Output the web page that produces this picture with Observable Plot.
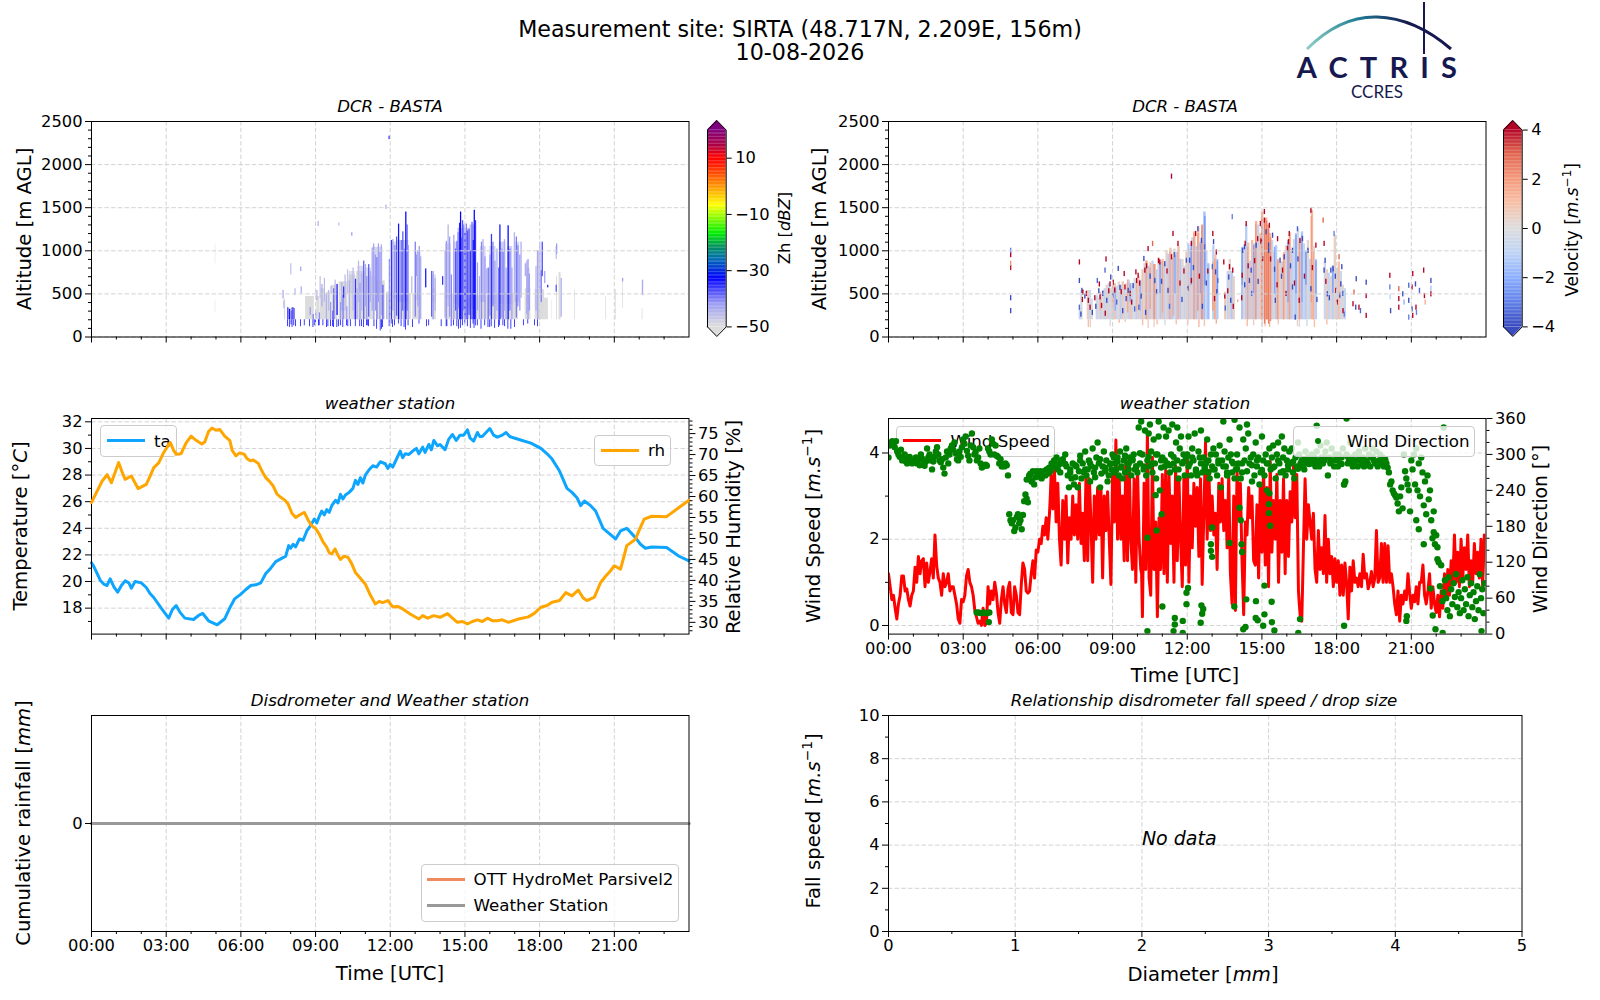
<!DOCTYPE html>
<html><head><meta charset="utf-8">
<script src="https://cdn.jsdelivr.net/npm/d3@7"></script>
<script src="https://cdn.jsdelivr.net/npm/@observablehq/plot@0.6"></script>
<style>
html,body{margin:0;padding:0;background:#fff}
#page{position:relative;width:1600px;height:1000px;overflow:hidden;font-family:"DejaVu Sans",sans-serif;color:#000}
.t{position:absolute;white-space:nowrap;transform:translate(-50%,-50%)}
.v{transform:translate(-50%,-50%) rotate(-90deg)}
.lab{font-size:19.6px}.ttl{font-size:16.6px;font-style:italic}
.leg{position:absolute;box-sizing:border-box;background:rgba(255,255,255,.8);border:1px solid #ccc;border-radius:4px}
.leg .h{position:absolute;height:3px;margin-top:-1.5px}
.leg .m{position:absolute;width:6px;height:6px;border-radius:50%;background:#008000;margin-top:-3px}
.leg span{position:absolute;font-size:16.7px;white-space:nowrap;transform:translateY(-50%)}
sup{font-size:.7em;line-height:0}
</style></head><body><div id="page"></div>
<script>
const hourTicks=[0,3,6,9,12,15,18,21];
const hourMinor=[1,2,4,5,7,8,10,11,13,14,16,17,19,20,22,23];
const titleLines=["Measurement site: SIRTA (48.717N, 2.209E, 156m)","10-08-2026"];

const zhStops=[-50,-42,-33,-26,-22,-17,-10,-7,0,8,10,14,20];
const zhColors=["#dcdcdc","#9a9af5","#0000ff","#0070b0","#009060","#00ee00","#b0ff00","#ffff00","#ff9000","#ff1000","#ff0000","#b00040","#7f007f"];
const velStops=[-4,-3,-2,-1,0,1,2,3,4];
const velColors=["#3b4cc0","#6282ea","#8db0fe","#c0d4f5","#dddcdc","#f7bfa6","#f4987a","#e0654f","#b40426"];

// [startHour,endHour,base,top] : weakest echoes (about -50 dBZ)
const zhGrey=[[4.97,4.99,290,420],[4.97,4.99,850,1080],[7.75,7.8,200,440],[7.92,8.2,200,330],[8.6,8.95,200,470],[9.05,9.18,200,470],[9.2,9.4,200,560],[9.44,9.62,200,520],[9.66,9.9,200,600],[9.95,10.3,200,640],[10.35,10.62,200,720],[10.65,11,200,760],[11,11.4,200,700],[11.45,11.8,200,650],[11.85,12.2,200,520],[12.25,12.85,200,500],[12.9,13.25,200,500],[13.68,13.85,200,560],[14.2,14.7,200,500],[14.7,15.2,200,460],[15.2,16,200,480],[16,17.15,200,500],[17.42,17.65,200,560],[17.82,18.2,200,550],[18.2,18.35,200,450],[18.5,18.52,200,430],[18.68,18.72,200,700],[18.78,18.86,200,750],[19.4,19.43,200,540],[20.65,20.68,200,470],[21.05,21.08,200,550],[21.33,21.36,330,650],[22.12,22.15,200,330],[22.12,22.15,480,650]];
// [startHour,endHour,base,top,dBZ] : patches of faint echoes above the grey layer
const zhFaint=[[10.35,10.6,500,760,-47],[10.7,10.95,520,820,-46],[11.05,11.25,480,800,-46],[11.28,11.7,500,1040,-45],[12.05,12.3,450,1100,-46],[12.3,12.75,400,1120,-44],[13,13.24,420,980,-46],[13.7,13.85,400,720,-46],[14.22,14.45,450,1080,-45],[14.55,14.72,380,1100,-45],[14.72,15.2,320,1260,-42],[15.2,15.45,320,1300,-42],[15.62,15.85,400,1050,-45],[16,16.25,380,1050,-45],[16.38,16.65,380,1100,-44],[16.72,16.92,380,1050,-44],[17,17.2,400,1100,-45],[17.48,17.62,400,800,-46],[17.9,18.08,560,1000,-46]];
// [hour,bottom] : strong pixels under the grey layer, up to 200 m
const zhLow=[[7.88,120],[7.95,110],[8.02,140],[8.06,110],[8.13,130],[8.2,120],[8.4,120],[8.55,130],[8.76,120],[8.9,110],[8.95,130],[9,130],[9.12,130],[9.15,130],[9.3,130],[9.45,110],[9.5,120],[9.6,120],[9.68,120],[9.73,110],[9.86,110],[9.92,120],[10,130],[10.1,110],[10.25,130],[10.3,120],[10.4,120],[10.6,120],[10.78,120],[10.85,120],[10.93,110],[11.05,130],[11.1,130],[11.13,120],[11.35,120],[11.46,90],[11.6,70],[11.65,90],[11.7,110],[11.96,120],[12.04,150],[12.1,110],[12.18,130],[12.33,150],[12.44,120],[12.56,110],[12.62,80],[12.72,130],[12.9,110],[13.16,150],[13.46,120],[13.55,130],[14.05,120],[14.25,120],[14.28,120],[14.45,120],[14.55,130],[14.68,120],[14.75,90],[14.82,100],[14.9,130],[15,150],[15.1,120],[15.22,100],[15.33,150],[15.37,100],[15.42,130],[15.5,130],[15.65,90],[15.8,130],[15.93,110],[16,110],[16.06,120],[16.2,100],[16.35,110],[16.4,130],[16.53,130],[16.6,120],[16.73,90],[16.85,90],[17,110],[17.35,130],[17.53,150],[17.8,130],[17.92,120]];
// [hour,base,top,dBZ]
const zhStreaks=[[7.69,440,540,-44],[7.72,330,420,-46],[7.88,200,340,-36],[7.95,200,320,-34],[8.02,200,300,-40],[8.06,200,340,-36],[8.1,200,340,-41],[8.13,200,330,-38],[8,720,850,-47],[8.17,480,560,-46],[8.4,760,810,-43],[8.42,500,580,-44],[8.78,250,340,-42],[8.9,200,260,-40],[9,200,300,-42],[9.05,420,540,-45],[9.15,200,280,-41],[9.18,450,700,-47],[9.25,350,610,-44],[9.35,400,680,-46],[9.42,200,500,-43],[9.52,300,540,-46],[9.6,200,400,-42],[9.62,500,590,-45],[9.68,200,300,-40],[9.73,200,560,-38],[9.78,420,660,-46],[9.85,250,520,-43],[9.86,250,610,-35],[9.93,1290,1320,-45],[10,200,400,-42],[10.05,300,630,-44],[10.1,200,500,-40],[10.13,450,580,-34],[10.18,300,720,-46],[10.25,200,350,-42],[10.28,500,780,-47],[10.35,200,650,-44],[10.45,1170,1210,-42],[10.5,300,800,-46],[10.56,200,500,-42],[10.6,200,670,-36],[10.66,200,560,-44],[10.72,400,880,-46],[10.78,200,620,-42],[10.85,300,730,-45],[10.93,200,880,-38],[11,350,840,-44],[11.05,200,700,-42],[11.13,230,840,-38],[11.2,400,760,-45],[11.27,300,1030,-44],[11.33,200,1080,-43],[11.4,300,950,-42],[11.46,200,920,-40],[11.52,400,1080,-43],[11.58,200,980,-42],[11.64,250,1070,-44],[11.7,200,600,-38],[11.82,1480,1530,-44],[11.85,200,500,-46],[11.96,200,900,-41],[12.04,200,1120,-36],[12.1,300,1130,-43],[12.18,200,1060,-41],[12.25,240,1160,-38],[12.33,200,1310,-34],[12.38,400,1000,-42],[12.44,200,1120,-40],[12.5,300,1220,-38],[12.56,200,1020,-41],[12.62,200,1450,-33],[12.67,300,1300,-38],[12.72,200,1060,-43],[12.86,500,700,-46],[13,230,1100,-40],[13.05,700,950,-42],[13.1,350,1000,-44],[13.16,200,1050,-42],[13.22,200,930,-44],[13.42,570,790,-34],[13.66,230,760,-38],[13.72,200,760,-43],[13.8,300,680,-45],[14.1,600,700,-36],[14.2,220,1000,-44],[14.25,200,1110,-42],[14.32,350,1300,-45],[14.38,230,1160,-42],[14.45,200,720,-41],[14.55,200,1180,-43],[14.62,300,1020,-38],[14.68,200,1110,-38],[14.72,350,1210,-41],[14.78,200,1320,-35],[14.82,200,1450,-33],[14.86,200,1150,-38],[14.9,200,1350,-38],[14.95,300,1300,-40],[15,200,1200,-36],[15.05,200,1310,-40],[15.1,200,1230,-38],[15.16,250,1250,-38],[15.22,200,1000,-36],[15.28,200,1330,-39],[15.33,200,1120,-35],[15.37,200,1470,-33],[15.42,200,1350,-36],[15.5,300,860,-43],[15.58,200,700,-45],[15.66,200,1100,-41],[15.72,400,1130,-44],[15.8,200,930,-42],[15.87,500,790,-45],[15.93,200,800,-39],[16,240,950,-42],[16.06,200,1190,-36],[16.12,350,1100,-40],[16.2,200,880,-42],[16.28,300,1020,-44],[16.35,200,800,-40],[16.4,200,1300,-34],[16.48,220,1020,-42],[16.53,200,980,-40],[16.58,300,1130,-44],[16.65,200,800,-43],[16.73,200,1290,-33],[16.8,300,1020,-40],[16.88,200,800,-43],[16.98,500,1210,-45],[17.06,220,1160,-40],[17.12,350,1060,-41],[17.2,300,950,-42],[17.25,450,1100,-44],[17.42,700,850,-44],[17.48,260,880,-44],[17.53,200,900,-42],[17.58,300,730,-42],[17.85,300,820,-45],[17.92,200,1000,-43],[18,500,1100,-45],[18.06,400,770,-40],[18.1,700,1100,-37],[18.2,620,760,-43],[18.32,570,600,-35],[18.66,520,600,-38],[18.66,900,1050,-46],[18.68,960,1080,-42],[18.86,230,680,-44],[21.33,640,680,-42],[22.13,480,660,-44],[11.95,2290,2330,-35],[9.1,1280,1340,-45]];

// [hour,top,m/s] : columns starting near 200 m
const velBase=[[7.66,330,-1],[7.72,540,-.2],[7.98,540,.5],[8.06,540,-.6],[8.14,440,0],[8.34,480,-.7],[8.42,450,.1],[8.5,500,-.9],[8.58,540,.2],[8.66,560,-1],[8.74,600,.4],[8.82,620,-.8],[8.9,560,.3],[8.98,600,-1.1],[9.06,620,.9],[9.14,590,-.9],[9.22,640,.2],[9.3,600,-1.2],[9.38,640,.7],[9.46,560,-.7],[9.54,620,.2],[9.62,660,-1],[9.7,600,1],[9.78,620,-.8],[9.86,680,.1],[9.94,650,-1.1],[10.02,700,.6],[10.1,660,-1],[10.18,780,.9],[10.26,850,-.6],[10.34,880,1.2],[10.42,820,-1.2],[10.5,860,.8],[10.58,880,-.9],[10.66,840,1.6],[10.74,780,-1.1],[10.82,920,.2],[10.9,870,-1.3],[10.98,900,.9],[11.06,840,-1.1],[11.14,1000,.4],[11.22,960,-1.2],[11.3,1030,1],[11.38,920,-1.4],[11.46,1020,-.3],[11.54,980,-1.2],[11.62,1050,1.1],[11.7,900,-1.3],[11.78,900,.3],[11.86,820,-1],[11.94,980,.6],[12.02,1080,-1.2],[12.1,1020,.9],[12.18,1150,-1],[12.26,1220,1.3],[12.34,1050,-1.3],[12.42,1280,.8],[12.5,1100,-1.1],[12.58,1300,1.5],[12.66,1450,-1.5],[12.74,1000,-.8],[12.82,850,-1.6],[13.02,1060,-1.1],[13.1,950,.9],[13.18,900,-1.3],[13.5,520,.7],[13.6,760,-1],[13.68,900,.3],[13.76,760,-1.3],[13.84,700,.4],[14.18,1040,-1.4],[14.26,1000,.3],[14.34,1300,-1.2],[14.42,1090,.9],[14.5,880,-1.1],[14.58,1120,1],[14.66,1080,-1.2],[14.74,1340,1.3],[14.82,1300,-.9],[14.9,1200,.6],[14.98,1450,1.4],[15.06,1320,-.7],[15.14,1380,1.6],[15.22,1300,1.8],[15.3,1200,1.2],[15.38,1120,-.9],[15.46,1000,.3],[15.54,1060,-1.2],[15.62,900,1.2],[15.7,860,.5],[15.78,870,-.9],[15.86,980,1.1],[15.94,1060,.4],[16.02,1120,-1.2],[16.1,1210,.9],[16.18,1000,-1.1],[16.26,1130,-.5],[16.34,1200,-1.3],[16.42,1260,-.4],[16.5,1130,1],[16.58,1220,-1.3],[16.66,1080,-.7],[16.74,1000,-1.2],[16.82,1120,.2],[16.9,900,-1],[16.98,1470,1.2],[17.06,1050,.3],[17.14,900,-1.1],[17.5,870,-.6],[17.58,780,.5],[17.66,740,-.9],[17.74,700,.2],[17.82,830,-1.1],[17.9,1180,.4],[17.98,800,-.9],[18.06,870,1],[18.14,760,-.6],[18.22,600,.2],[18.3,560,-.9]];
// [hour,base,top,m/s] : streaks
const velStreaks=[[8.1,110,200,.4],[8.02,110,200,1],[8.9,120,200,0],[9.26,160,200,1.2],[9.5,170,200,.9],[10.2,130,200,1],[10.42,100,200,.4],[10.66,110,200,.3],[10.78,140,200,1],[11.1,130,200,-.1],[11.55,140,200,1],[12.02,140,200,.9],[12.46,110,200,1.2],[12.68,120,200,.8],[13.16,150,200,1.5],[14.4,120,200,1.2],[14.66,130,200,.5],[15,110,200,.3],[15.12,120,200,.9],[15.3,110,200,1.3],[15.65,140,200,.6],[16.42,120,200,.5],[16.5,110,200,-.2],[16.8,120,200,-.5],[17.1,110,200,1],[17.6,140,200,1.1],[10.34,200,880,1.7],[10.66,200,840,2.1],[11.3,200,1000,1.6],[11.62,200,1000,1.5],[12.26,200,1200,1.8],[12.42,300,1200,2.1],[12.58,200,1290,2.2],[13.1,200,900,1.7],[14.42,200,1040,1.7],[14.74,200,1300,1.9],[14.98,200,1400,2.2],[15.1,150,1360,2.5],[15.18,200,1350,2.4],[15.26,150,1250,2.6],[15.34,180,1150,2.2],[15.62,200,880,1.9],[15.86,200,950,1.8],[16.1,200,1180,1.8],[16.5,200,1100,2],[16.98,400,1400,1.9],[17.06,200,1000,1.5],[8.5,300,520,1.3],[9,350,620,1.6],[9.6,280,660,1.6],[9.96,300,680,1.3],[10.5,320,800,1.8],[11,280,880,1.6],[11.44,240,980,1.5],[13.02,300,860,1.9],[14.02,400,430,1.5],[9.1,300,560,-2],[9.7,400,620,-2.2],[10.1,300,650,-2],[10.9,500,860,-2.4],[11.5,500,950,-2.2],[12.15,600,1100,-2.5],[12.52,500,1080,-2.2],[12.7,600,1400,-2.6],[13.2,500,880,-2.5],[14.2,600,1020,-2.4],[14.66,500,1060,-2.3],[15.5,500,1040,-2.2],[16.04,400,1100,-2.3],[16.36,500,1180,-2.4],[16.6,400,1180,-2.2],[16.76,600,980,-2.6],[17.16,500,880,-2.4],[17.84,500,820,-2.4]];
// [hour,altitude,m/s] : isolated strong pixels
const velSpecks=[[4.9,800,3.8],[4.9,850,2],[4.9,950,4],[4.9,1000,-3],[4.9,450,-4],[4.9,300,-4],[11.36,1860,4],[7.66,865,4],[7.66,650,-4],[7.66,340,-3.5],[7.76,535,-4],[7.8,515,4],[8.02,420,4],[8.09,340,4],[8.38,650,-3.5],[8.46,610,4],[8.49,460,4],[8.73,900,4],[8.69,770,-3.5],[8.92,690,-4],[8.89,610,4],[9.02,630,4],[9.22,790,-4],[9.29,570,-4],[9.46,730,4],[9.49,575,4],[9.62,535,-4],[9.76,400,4],[9.93,750,4],[9.96,650,4],[10.02,710,4],[10.05,340,-3.5],[10.25,905,-4],[10.42,1020,4],[10.6,1080,3],[10.29,770,4],[10.69,650,-4],[10.89,865,4],[11.09,845,-4],[11.22,535,-4],[11.36,925,4],[11.42,1195,4],[11.62,1080,4],[11.96,885,-4],[12.09,885,-4],[12.16,650,4],[12.16,1080,4],[12.33,1195,4],[12.42,1250,-4],[12.56,1115,-4],[12.69,1040,-3.5],[13.02,1195,4],[13.05,1100,-4],[13.16,980,4],[13.13,750,-4],[13,810,-3.5],[13.09,440,4],[13.22,650,-3.5],[13.46,865,4],[13.69,810,4],[13.82,770,4],[13.66,690,-4],[13.8,1390,-3],[14.2,710,4],[14.32,1080,4],[14.36,1310,4],[14.29,1040,-4],[14.22,1000,-4],[14.76,1060,-4],[14.82,1135,4],[14.96,1100,4],[15.02,905,4],[15.09,1450,4],[15.16,1215,-4],[15.26,1000,-4],[14.56,770,-4],[14.49,650,-4],[15.09,1350,4],[14.93,1310,4],[15.29,1290,4],[15.42,1175,-4],[14.96,1115,4],[15.26,1060,-4],[16.96,1465,4],[17.45,1350,3],[17.49,1080,4],[17.16,1060,4],[16.09,1195,4],[16.06,1100,4],[15.62,1135,4],[16.52,1115,4],[16.42,1250,-3.5],[16.62,1135,-4],[15.89,925,-4],[16.02,1020,4],[15.82,770,4],[16.22,1000,-4],[15.72,885,-4],[15.53,420,-4],[16.49,420,4],[16.33,225,-4],[16.22,575,-4],[16.96,555,-4],[17.53,885,-4],[17.49,770,-4],[17.85,785,-4],[17.76,770,-4],[18.09,925,3],[18.2,810,-4],[18.16,610,-4],[17.96,535,4],[17.89,1195,-3],[17.62,495,-4],[18.78,670,-4],[18.69,515,3],[18.65,380,4],[18.76,340,-4],[18.89,340,4],[19.18,630,-4],[19.18,475,4],[19.18,245,4],[20.13,710,4],[20.13,575,-3],[20.16,300,-4],[20.49,555,3],[20.49,440,4],[20.49,340,4],[20.65,495,-4],[20.89,595,-3.5],[20.89,420,-4],[21.02,575,4],[21.05,730,4],[21.16,610,-4],[21.18,340,4],[21.02,320,-4],[21.05,245,4],[20.89,225,-3],[21.32,535,-3.5],[21.49,770,4],[21.52,475,4],[21.78,650,-4],[21.78,495,4],[18.3,260,-3],[18.25,300,4],[18.95,300,-3.5],[21.2,280,-3],[20.7,400,-2],[21.55,400,1.5],[21.78,560,-1.5],[20.14,460,-1],
[7.72,260,-4],[7.78,430,4],[7.88,470,-4],[7.94,500,4],[8.18,280,-4],[8.28,450,4],[8.32,350,-4],[8.44,530,-4],[8.55,360,4],[8.6,500,-4],[8.7,270,4],[8.76,420,-4],[8.84,530,4],[9,480,-4],[9.08,540,4],[9.16,400,-3.5],[9.34,520,4],[9.4,300,-4],[9.54,440,-4],[9.7,500,4],[9.82,590,-4],[9.88,320,-3.5],[10.08,620,4],[10.14,470,-4],[10.32,280,-4],[10.36,820,4],[10.5,700,-4],[10.76,520,-4],[10.84,880,4],[10.96,640,-4],[11.18,760,4],[11.28,350,-3.5],[11.48,950,-3.5],[11.7,620,4],[11.78,430,-4],[11.86,760,4],[12.02,560,-4],[12.24,800,-4],[12.48,700,4],[12.6,350,-4],[12.76,620,-4],[12.82,760,4],[13.18,520,-4],[13.5,470,4],[13.52,330,-3.5],[13.62,530,4],[13.74,420,-4],[13.84,350,4],[14.18,450,4],[14.3,600,-4],[14.44,820,4],[14.58,500,-3.5],[14.7,880,4],[14.84,640,-4],[15.34,900,4],[15.5,780,-4],[15.6,600,4],[15.78,700,-4],[15.96,500,4],[16.14,820,-4],[16.3,620,4],[16.44,900,-4],[16.7,700,4],[16.84,1000,-4],[17.02,800,4],[17.2,430,-4],[17.56,640,4],[17.7,450,-4],[17.94,700,-4],[18.02,400,4],[18.12,480,-4],[18.24,500,-3.5]];

// one reading every 4 minutes, 00:00 to 24:00
const windSpeed=[1.2,.9,.6,.7,.4,.15,.5,.7,1.15,1.15,.8,.85,.6,.45,.7,
.8,1.35,1,1.6,1.2,1.5,1.55,.9,1.45,1,1.25,1.55,1.1,2.1,1.4,
1.1,1,.7,1.2,.9,1,1.2,.8,.9,.9,.7,.5,.15,.05,.6,
.55,.7,1.15,1.3,1,.9,.7,.35,.2,.05,.1,0,.4,0,.05,
.9,.5,.8,.6,1,.75,.3,.05,.6,.9,.5,.3,.85,1,.3,
.25,.9,.7,.3,.25,.95,1.45,1.3,.8,.75,.8,1.2,1.5,1.1,1.75,
1.7,2,1.9,2.3,2.1,2.5,2,2.6,3.5,2.7,3.6,2.4,3.3,2,1.4,
2.9,2,3,1.45,2.5,2,3,2.1,2.8,2,3.3,1.9,2.6,1.5,3.5,
1.5,3.4,2.4,1,3,2,3.2,2.1,3.2,1.1,3,2.2,3.1,2,.95,
3.5,2.4,4.3,2,3.4,2,3,1.5,3.9,1.5,3.8,2,1.3,3.4,1,
3.7,2,1.3,.2,3.3,1.3,4.5,1.1,.7,3.9,1.3,2.4,.2,2.5,1.3,
3.5,1.2,3.6,1,3.5,1.9,3,1,3.7,1.5,3.4,2,.9,3.5,1.4,
4,1,3,1.8,3.3,2.3,3.2,1.6,3.4,.95,2.6,4.25,2,3.6,2.2,
3,2.1,2.6,1.3,3.3,2.4,3.4,2.2,2.9,1.8,3.5,1.2,.5,3,.35,
3.6,2.5,3.3,1.5,.25,2.4,2.1,3.2,2.5,3,1.5,1.4,2.8,1.1,3.3,
1.7,3.6,1.4,3.2,.9,3.8,1.7,2.9,2,3.5,1,2.9,1.7,3.4,1.2,
2.9,1.6,3.1,2.4,3.7,2.5,3.5,.8,.25,.1,1.8,3.4,2,2.8,2.4,
2,2.6,1.3,1,2.2,1.3,1.8,1.2,2.55,1,2,1.2,1.6,.9,1.55,
1,1.5,.7,1.4,.7,1.45,1,.15,1.35,.8,1.5,1,1.1,.9,1.2,
.9,1.65,1.1,1.2,.85,1,1.25,.9,1.1,2.2,1,1.1,1.9,1,1.9,
1,1.85,1,1.2,.9,.5,.25,.8,.1,.7,.5,.8,.6,1.2,.75,
.4,.7,.55,.9,.5,1,1,1.4,.7,.5,.8,1.2,.4,.9,.5,
.3,.7,.2,.8,.4,1.2,.6,1.3,.7,1.5,1,2.1,1,1.7,.9,
2,1.1,1.8,1.3,2.1,.9,1.5,1,1.9,1.2,1.7,1.1,2,.9,2.1];
// readings half-way between those above, from 06:00 to 17:00
const windSpeedBetween=[1.85,2,2.1,2.2,2.3,2.25,2.3,3,3.1,3.15,3,2.85,2.65,1.7,2.1,
2.4,2.5,2.2,2,2.2,2.5,2.5,2.45,2.4,2.6,2.6,2.25,2,2.5,2.5,
2.4,2.9,1.7,2,2.5,2.6,2.6,2.65,2.15,2.1,2.6,2.65,2.55,1.5,2.2,
3,3.3,3.1,2.7,2.7,2.5,2.2,2.7,2.7,2.65,2.9,1.65,2.4,2.2,2.35,
2.85,1.65,1.2,1.8,2.3,2.9,2.8,.9,2.3,2.6,1.85,1.3,1.35,1.9,2.4,
2.35,2.4,2.3,2.25,2.7,2.45,2,2.35,2.6,2.45,2.7,1.45,2.2,2.45,2.7,
2.5,2,2.4,2.55,2.8,2.75,2.4,2.5,2.2,1.8,3.4,3.1,2.8,2.9,2.5,
2.55,2.35,1.95,2.3,2.85,2.9,2.8,2.55,2.6,2.65,2.35,.85,1.75,1.7,2.1,
3.05,2.9,2.4,.9,1.3,2.25,2.65,2.85,2.75,2.25,1.45,2.1,1.95,2.2,2.4,
2.65,2.5,2.3,2.05,2.35,2.75,2.3,2.45,2.75,2.25,1.95,2.3,2.55,2.3,2.5,
2.25,2.35,2.75,3.05,3.1,3,2.15,.5,.15,.95,2.6,2.7,2.4,2.6,2.2];
// one reading every 3 minutes
const windDir=[295,315,320,322,318,312,322,305,300,296,308,290,295,300,288,285,294,296,290,285,
290,288,295,285,292,282,300,293,285,281,288,310,295,300,290,275,288,296,305,312,
300,290,287,292,278,268,295,305,285,300,310,315,308,320,302,292,290,305,296,312,
325,318,330,306,298,290,315,335,312,300,304,290,295,310,285,278,280,282,283,281,
310,305,300,325,318,300,315,298,296,285,292,280,282,280,285,282,265,200,190,185,
190,172,178,195,200,185,190,175,199,222,233,226,220,262,268,255,272,250,262,272,
263,268,272,260,270,272,265,275,268,278,272,285,280,290,282,295,275,283,270,290,
292,285,300,280,265,245,270,260,285,250,262,280,245,272,298,260,285,270,305,265,
275,290,255,280,310,270,262,295,320,285,245,268,280,305,278,290,255,265,285,275,
300,270,285,275,295,265,305,280,260,290,270,310,285,275,295,265,290,300,275,280,
270,345,285,355,300,280,340,265,290,335,280,305,270,325,285,260,300,330,240,290,
295,345,280,330,285,340,270,300,350,285,275,320,290,260,310,330,285,300,265,295,
300,330,285,265,310,290,335,275,265,305,295,340,270,295,275,285,325,270,260,300,
280,310,275,300,265,290,315,245,290,355,305,280,265,295,325,300,270,285,260,275,
300,285,345,260,270,325,290,310,350,335,285,295,255,300,265,320,280,295,250,270,
330,290,265,300,240,285,310,275,295,315,280,260,300,320,285,270,330,295,310,265,
290,275,305,285,310,270,260,295,280,320,300,285,290,280,275,305,285,295,285,290,
300,285,295,280,305,290,280,315,295,285,290,305,320,265,295,285,310,290,280,300,
290,280,300,285,295,310,250,255,300,285,290,320,295,280,285,300,290,280,305,295,
285,295,280,310,290,285,300,280,295,310,290,285,305,280,290,300,285,295,280,290,
285,278,270,250,255,240,235,232,228,218,205,230,245,210,300,272,260,250,240,205,
290,275,300,250,310,240,285,230,295,270,215,255,200,265,225,240,190,160,205,150,
165,145,120,80,115,55,70,90,60,40,95,30,75,50,85,62,100,45,70,35,
60,90,40,75,50,95,30,65,85,45,70,25,55,80,40,100,60,75,35,85];
// further readings scattered away from the main band: [hour,degrees]
const windDirOther=[[3.54,36],[3.62,36],[3.72,35],[3.82,36],[3.95,35],[4.05,36],[4.03,20],[5.55,258],[5.65,265],[5.75,255],[10.4,161],[10.77,173],[10.97,200],[10.73,232],[11,46],[10.4,5],[11.5,27],[11.5,16],[11.82,22],[11.45,5],[11.82,2],[12.03,77],[11.97,69],[11.97,50],[12.57,48],[12.64,42],[12.6,34],[12.54,19],[13,178],[12.95,150],[12.95,139],[13,129],[13.7,152],[14.18,150],[14.2,137],[14.15,190],[14.1,211],[14.37,58],[14.76,55],[15.1,81],[15.39,54],[14.75,27],[14.83,23],[15.1,33],[15.05,14],[15.4,20],[15.5,6],[14.34,12],[14.25,8],[13.89,46],[15.33,181],[15.28,202],[15.28,217],[15.3,235],[16.53,25],[16.46,2],[18.3,14],[18.3,250],[21.97,8],[20.8,22],[20.82,30],[21.86,31],[22.26,2],[23.82,5],[21.77,76],[10.5,350],[10.85,355],[11.6,345],[13.9,358],[18.4,360],[17.2,348],[22.3,345],[21.2,190],[21.3,175],[21.5,150],[21.9,170],[22.05,125],
[6.1,268],[6.3,272],[6.5,276],[6.7,280],[6.9,288],[7.1,284],[7.3,275],[7.5,282],[7.7,290],[7.9,275],[8.1,285],[8.3,278],[8.5,292],[8.7,272],[8.9,284],[9.05,295],[9.2,288],[9.35,278],[9.5,298],[9.65,285],[9.8,292],[9.95,280],[10.1,302],[10.25,275],[10.45,296],[10.6,285],[10.75,300],[10.95,278],[11.1,290],[11.3,282],[11.45,296],[11.65,275],[11.85,288],[12.05,280],[12.2,295],[12.35,272],[12.55,285],[12.7,278],[12.85,290],[13.05,275],[13.25,285],[13.45,280],[13.6,270],[13.8,288],[14,276],[14.2,285],[14.4,272],[14.6,282],[14.8,290],[15,274],[15.2,285],[15.45,278],[15.65,290],[15.85,272],[16.05,282],[16.25,288],[16.45,276],[16.7,292],[16.9,284],[17.1,290],[17.3,284],[17.5,296],[17.75,288],[18,292],[18.2,284],[18.45,296],[18.7,288],[18.95,292],[19.2,282],[19.45,296],[19.7,288],[19.95,292]];

const taSeries=[[0,21.4],[.1,21.1],[.2,20.7],[.35,20.1],[.5,19.8],[.62,19.7],[.75,20.2],[.9,19.6],[1.05,19.2],[1.2,19.7],[1.35,20.05],[1.5,19.9],[1.6,19.5],[1.75,20],[2,19.9],[2.2,19.55],[2.35,19.1],[2.5,18.8],[2.8,18],[3.1,17.25],[3.25,17.9],[3.4,18.2],[3.55,17.7],[3.75,17.25],[4.1,17.15],[4.3,17.45],[4.47,17.6],[4.7,17.05],[5.05,16.75],[5.35,17.2],[5.55,18],[5.75,18.7],[6,19.05],[6.2,19.4],[6.4,19.7],[6.6,19.75],[6.8,19.9],[7,20.6],[7.2,21],[7.4,21.5],[7.6,21.7],[7.8,21.9],[7.92,22.7],[8,22.5],[8.1,22.8],[8.2,22.6],[8.35,23.2],[8.5,23.1],[8.65,23.8],[8.8,24.2],[8.95,24.7],[9.05,24.4],[9.15,24.9],[9.25,25.3],[9.35,25],[9.45,25.4],[9.55,25.2],[9.65,25.7],[9.8,26.1],[9.9,25.9],[10,26.55],[10.1,26.2],[10.2,26.5],[10.35,26.7],[10.5,27],[10.6,27.6],[10.7,27.3],[10.8,27.8],[10.9,27.4],[11,28],[11.15,28.4],[11.3,28.7],[11.45,28.6],[11.6,29],[11.8,28.85],[11.9,28.5],[12,28.8],[12.1,28.6],[12.2,29],[12.4,29.8],[12.5,29.3],[12.6,29.6],[12.75,29.55],[12.9,29.8],[13.05,30],[13.15,29.6],[13.3,30.1],[13.4,29.7],[13.55,30.3],[13.65,29.9],[13.75,30.6],[13.9,30.2],[14,30.3],[14.2,29.9],[14.35,30.7],[14.5,31.05],[14.65,30.6],[14.8,31],[14.95,31],[15.1,31.4],[15.2,30.8],[15.35,30.55],[15.5,31.2],[15.6,30.9],[15.7,30.9],[15.8,31.1],[16,31.5],[16.15,31],[16.3,30.85],[16.5,31],[16.65,31.2],[16.8,30.9],[16.95,30.8],[17.3,30.6],[17.65,30.4],[18.05,30],[18.3,29.6],[18.5,29.2],[18.8,28.3],[19.1,27],[19.3,26.7],[19.5,26.3],[19.65,25.7],[19.8,26.05],[20.05,25.7],[20.25,25.3],[20.55,24],[20.8,23.6],[21.05,23.2],[21.25,23.8],[21.5,24],[21.85,23.3],[22.05,22.8],[22.25,22.5],[22.5,22.6],[23.1,22.55],[23.6,21.9],[24,21.55]];
const rhSeries=[[0,58.6],[.2,61],[.43,63.7],[.63,65.2],[.8,63.3],[1.09,68.1],[1.25,65.5],[1.35,64.1],[1.6,64.9],[1.87,61.9],[2.2,62.9],[2.35,64.8],[2.5,66.9],[2.7,68],[2.9,70.5],[3.16,72.9],[3.3,71],[3.4,70.1],[3.6,70.2],[3.8,72.8],[4,74.4],[4.2,73.4],[4.43,72.5],[4.55,73],[4.7,75.5],[4.84,76.3],[5,75.8],[5.15,76],[5.35,74.4],[5.56,73.3],[5.65,71],[5.8,69.7],[5.95,70.4],[6.13,70.1],[6.25,69],[6.38,68.5],[6.5,68.7],[6.7,67.9],[6.85,66],[7,64.5],[7.15,63.6],[7.3,62.5],[7.45,60.6],[7.6,59.8],[7.75,59.2],[7.9,58.2],[8.05,56],[8.2,55],[8.35,55.6],[8.55,56.2],[8.7,54.4],[8.85,53],[9,52.4],[9.15,51],[9.3,49.2],[9.45,47.9],[9.55,46.6],[9.65,46.3],[9.78,47.5],[9.9,46],[10,45],[10.15,45.8],[10.3,45.5],[10.45,44],[10.6,41.9],[10.8,40.5],[11,39.1],[11.2,36.5],[11.4,34.4],[11.55,35],[11.7,34.7],[11.9,35.2],[12.1,33.7],[12.3,33.8],[12.5,33.2],[12.8,32],[13.15,30.8],[13.3,31.6],[13.5,31],[13.75,31.6],[14,31.2],[14.3,32.1],[14.5,31],[14.7,30],[14.9,30.2],[15.1,29.6],[15.3,30.2],[15.5,30.6],[15.7,30.2],[15.9,31],[16.1,30.4],[16.3,30.4],[16.5,30.6],[16.75,30],[17.15,30.8],[17.55,31.3],[17.8,32.2],[18.05,33.6],[18.3,34],[18.5,34.8],[18.8,35.2],[19.05,37.1],[19.3,36.3],[19.55,37.7],[19.75,35.8],[19.9,35.2],[20.2,36],[20.45,39.5],[20.65,41],[20.85,42.3],[21,43.5],[21.25,42.7],[21.4,46],[21.5,48.3],[21.85,49.8],[22,52],[22.2,54.6],[22.5,55.3],[23.1,55.2],[23.6,57.4],[24,59.1]];

const rainHours=[0,24];
const rainParsivel=[0,0];
const rainStation=[0,0];

const page=document.getElementById("page");
const FONT='"DejaVu Sans",sans-serif';
const M={l:70,r:70,t:12,b:42};
const GRID={stroke:"#d3d3d3",strokeOpacity:1,strokeDasharray:"4.5,2.2"};
function add(frame,o){
  const svg=Plot.plot({
    width:frame.w+M.l+M.r,height:frame.h+M.t+M.b,
    marginLeft:M.l,marginRight:M.r,marginTop:M.t,marginBottom:M.b,
    style:{position:"absolute",left:(frame.x-M.l)+"px",top:(frame.y-M.t)+"px",background:"transparent",fontFamily:FONT,overflow:"visible",color:"#000"},
    ...o});
  page.appendChild(svg);
}
const ticksOnly=(anchor,axis,ticks,size)=>axis({anchor,ticks,tickSize:size,fill:"none",label:null,strokeOpacity:1});
const plain=d=>String(d);
function xTime(labels){
  return [labels?Plot.axisX({anchor:"bottom",ticks:hourTicks,tickSize:6,tickPadding:2,fontSize:16.3,label:null,tickFormat:d=>String(d).padStart(2,"0")+":00"}):ticksOnly("bottom",Plot.axisX,hourTicks,6),
          ticksOnly("bottom",Plot.axisX,hourMinor,3)];
}
function yAxis(anchor,major,minor){
  return [Plot.axisY({anchor,ticks:major,tickSize:6,tickPadding:3,fontSize:16.3,label:null,tickFormat:plain}),
          minor?ticksOnly(anchor,Plot.axisY,minor,3):null];
}
function text(s,x,y,cls,vert){
  const d=document.createElement("div");d.className="t "+cls+(vert?" v":"");
  d.style.left=x+"px";d.style.top=y+"px";d.innerHTML=s;page.appendChild(d);
}
function legend(x,y,w,h,rows){
  const d=document.createElement("div");d.className="leg";
  d.style.cssText=`left:${x}px;top:${y}px;width:${w}px;height:${h}px`;
  rows.forEach(r=>{
    if(r.marker){const m=document.createElement("div");m.className="m";m.style.left=(r.hx-3)+"px";m.style.top=r.cy+"px";d.appendChild(m);}
    else{const l=document.createElement("div");l.className="h";l.style.cssText=`left:${r.hx}px;width:38px;top:${r.cy}px;background:${r.color}`;d.appendChild(l);}
    const s=document.createElement("span");s.textContent=r.label;s.style.left=r.tx+"px";s.style.top=r.cy+"px";d.appendChild(s);
  });
  page.appendChild(d);
}
function colorbar(frame,lo,hi,ext,major,scale,topColor,lowColor){
  const step=(hi-lo)/140;
  const levels=d3.range(lo,hi,step);
  const outline=[[0,lo],[.5,lo-ext],[1,lo],[1,hi],[.5,hi+ext],[0,hi],[0,lo]];
  add(frame,{x:{domain:[0,1],axis:null},y:{domain:[lo-ext,hi+ext],axis:null},color:scale,marks:[
    Plot.rect(levels,{x1:()=>0,x2:()=>1,y1:d=>d,y2:d=>d+step*1.1,fill:d=>d}),
    Plot.area([[0,lo,lo],[.5,lo,lo-ext],[1,lo,lo]],{x1:d=>d[0],x2:d=>d[0],y1:d=>d[1],y2:d=>d[2],fill:lowColor}),
    Plot.area([[0,hi,hi],[.5,hi,hi+ext],[1,hi,hi]],{x1:d=>d[0],x2:d=>d[0],y1:d=>d[1],y2:d=>d[2],fill:topColor}),
    Plot.line(outline,{x:d=>d[0],y:d=>d[1],stroke:"#000",strokeWidth:1}),
    Plot.axisY({anchor:"right",ticks:major,tickSize:5,tickPadding:4,fontSize:16.3,label:null})
  ]});
}

const AX=91,DX=887.5,W=597.5;
const altMajor=[0,500,1000,1500,2000,2500];
const altMinor=d3.range(0,2500,100).filter(d=>d%500);
const zhScale={type:"linear",domain:zhStops,range:zhColors,clamp:true};
const velScale={type:"linear",domain:velStops,range:velColors,clamp:true};
const COL=.055;

// ---- top left: reflectivity
add({x:AX,y:120.5,w:W,h:215.5},{x:{domain:[0,24],axis:null},y:{domain:[0,2500],axis:null},color:zhScale,marks:[
  Plot.rect(zhGrey,{x1:d=>d[0],x2:d=>d[1],y1:d=>d[2],y2:d=>d[3],fill:()=>-50}),
  Plot.rect(zhFaint,{x1:d=>d[0],x2:d=>d[1],y1:d=>d[2],y2:d=>d[3],fill:d=>d[4],fillOpacity:.55}),
  Plot.rect(zhLow,{x1:d=>d[0],x2:d=>d[0]+.03,y1:d=>d[1],y2:()=>200,fill:()=>-33}),
  Plot.rect(zhStreaks,{x1:d=>d[0],x2:d=>d[0]+.05,y1:d=>d[1],y2:d=>d[2],fill:d=>d[3]}),
  Plot.gridX(hourTicks,GRID),Plot.gridY(altMajor,GRID),
  ...xTime(false),...yAxis("left",altMajor,altMinor),Plot.frame({stroke:"#000"})
]});
colorbar({x:707.3,y:120,w:18.7,h:216},-50,20,3.4,[-50,-30,-10,10],zhScale,"#7f007f","#dcdcdc");
// ---- top right: velocity
add({x:DX,y:120.5,w:W,h:215.5},{x:{domain:[0,24],axis:null},y:{domain:[0,2500],axis:null},color:velScale,marks:[
  Plot.rect(velBase,{x1:d=>d[0],x2:d=>d[0]+.095,y1:()=>200,y2:d=>d[1],fill:d=>d[2]}),
  Plot.rect(velStreaks,{x1:d=>d[0],x2:d=>d[0]+COL,y1:d=>d[1],y2:d=>d[2],fill:d=>d[3]}),
  Plot.rect(velSpecks,{x1:d=>d[0],x2:d=>d[0]+COL,y1:d=>d[1]-30,y2:d=>d[1]+30,fill:d=>d[2]}),
  Plot.gridX(hourTicks,GRID),Plot.gridY(altMajor,GRID),
  ...xTime(false),...yAxis("left",altMajor,altMinor),Plot.frame({stroke:"#000"})
]});
colorbar({x:1502.8,y:120,w:18.7,h:216},-4,4,.39,[-4,-2,0,2,4],velScale,"#b40426","#3b4cc0");

// ---- middle left: temperature and humidity
const MID={y:417.7,h:215.6};
const taMajor=[18,20,22,24,26,28,30,32],taMinor=[17,19,21,23,25,27,29,31];
add({x:AX,y:MID.y,w:W,h:MID.h},{x:{domain:[0,24],axis:null},y:{domain:[16.05,32.25],axis:null},marks:[
  Plot.gridX(hourTicks,GRID),Plot.gridY(taMajor,GRID),
  Plot.line(taSeries,{x:d=>d[0],y:d=>d[1],stroke:"#0ea5ff",strokeWidth:3}),
  ...xTime(false),...yAxis("left",taMajor,taMinor),Plot.frame({stroke:"#000"})
]});
legend(100,424.5,76.5,32,[{hx:6,cy:15,color:"#0ea5ff",label:"ta",tx:53}]);
const rhMajor=[30,35,40,45,50,55,60,65,70,75];
const rhMinor=d3.range(28,79).filter(d=>d%5);
add({x:AX,y:MID.y,w:W,h:MID.h},{x:{domain:[0,24],axis:null},y:{domain:[27.2,78.6],axis:null},marks:[
  Plot.line(rhSeries,{x:d=>d[0],y:d=>d[1],stroke:"#ffa500",strokeWidth:3}),
  ...yAxis("right",rhMajor,rhMinor)
]});
legend(594,435,77,31,[{hx:6,cy:14,color:"#ffa500",label:"rh",tx:53}]);

// ---- middle right: wind
const windTable=[...windSpeed.map((v,i)=>({t:i/15,v})),...windSpeedBetween.map((v,i)=>({t:6+(2*i+1)/30,v}))].sort((a,b)=>a.t-b.t);
const wdTime=windDir.map((v,i)=>i/20);
add({x:DX,y:MID.y,w:W,h:MID.h},{x:{domain:[0,24],axis:null},y:{domain:[-.2,4.8],axis:null},marks:[
  Plot.gridX(hourTicks,GRID),Plot.gridY([0,2,4],GRID),
  Plot.line(windTable,{x:"t",y:"v",stroke:"#ff0000",strokeWidth:3,clip:true}),
  ...xTime(true),...yAxis("left",[0,2,4],[1,3])
]});
legend(895.5,426,159,31,[{hx:6,cy:13.5,color:"#ff0000",label:"Wind Speed",tx:54}]);
add({x:DX,y:MID.y,w:W,h:MID.h},{x:{domain:[0,24],axis:null},y:{domain:[0,360],axis:null},marks:[
  Plot.dot(windDir,{x:(v,i)=>wdTime[i],y:v=>v,r:3.2,fill:"#008000",clip:true}),
  Plot.dot(windDirOther,{x:d=>d[0],y:d=>d[1],r:3.2,fill:"#008000",clip:true}),
  ...yAxis("right",[0,60,120,180,240,300,360],[20,40,80,100,140,160,200,220,260,280,320,340]),
  Plot.frame({stroke:"#000"})
]});
legend(1293,426,182,31,[{marker:true,hx:24,cy:13.5,label:"Wind Direction",tx:53}]);

// ---- bottom left: rainfall
const BOT={y:715.3,h:216};
add({x:AX,y:BOT.y,w:W,h:BOT.h},{x:{domain:[0,24],axis:null},y:{domain:[-.055,.055],axis:null},marks:[
  Plot.gridX(hourTicks,GRID),
  Plot.lineY(rainParsivel,{x:(v,i)=>rainHours[i],y:v=>v,stroke:"#f08a60",strokeWidth:3}),
  Plot.lineY(rainStation,{x:(v,i)=>rainHours[i],y:v=>v,stroke:"#999999",strokeWidth:3}),
  ...xTime(true),...yAxis("left",[0],null),Plot.frame({stroke:"#000"})
]});
legend(420.5,864,258,58,[{hx:5,cy:14,color:"#f08a60",label:"OTT HydroMet Parsivel2",tx:52},{hx:5,cy:40,color:"#999999",label:"Weather Station",tx:52}]);
// ---- bottom right: fall speed
const fsMajor=[0,2,4,6,8,10];
add({x:DX,y:BOT.y,w:633.5,h:BOT.h},{x:{domain:[0,5],axis:null},y:{domain:[0,10],axis:null},marks:[
  Plot.gridX([1,2,3,4],GRID),Plot.gridY(fsMajor,GRID),
  Plot.text(["No data"],{x:()=>2,y:()=>4,textAnchor:"start",fontSize:19,fontStyle:"italic",fill:"#000",lineAnchor:"bottom"}),
  Plot.axisX({anchor:"bottom",ticks:[0,1,2,3,4,5],tickSize:6,tickPadding:2,fontSize:16.3,label:null,tickFormat:plain}),
  ticksOnly("bottom",Plot.axisX,[.5,1.5,2.5,3.5,4.5],3),
  ...yAxis("left",fsMajor,[1,3,5,7,9]),Plot.frame({stroke:"#000"})
]});

// ---- texts
text(titleLines[0],800,28.5,"",false);page.lastChild.style.fontSize="22.2px";
text(titleLines[1],800,52,"",false);page.lastChild.style.fontSize="22.2px";
text("DCR - BASTA",390,106,"ttl");text("DCR - BASTA",1185,106,"ttl");
text("weather station",390,403,"ttl");text("weather station",1185,403,"ttl");
text("Disdrometer and Weather station",390,700,"ttl");
text("Relationship disdrometer fall speed / drop size",1204,700,"ttl");
text("Altitude [m AGL]",23.5,228.5,"lab",true);text("Altitude [m AGL]",818.5,228.5,"lab",true);
text("Temperature [<i>°C</i>]",20,525.5,"lab",true);
text("Relative Humidity [%]",733,526.5,"lab",true);
text("Wind Speed [<i>m.s</i><sup>−1</sup>]",813.4,525.5,"lab",true);
text("Wind Direction [°]",1540,529,"lab",true);page.lastChild.style.fontSize="18.8px";
text("Cumulative rainfall [<i>mm</i>]",22.5,822.5,"lab",true);
text("Fall speed [<i>m.s</i><sup>−1</sup>]",813.4,820.5,"lab",true);
text("Time [UTC]",1185,674.5,"lab");text("Time [UTC]",390,972.5,"lab");
text("Diameter [<i>mm</i>]",1203,973.5,"lab");
text("Zh [<i>dBZ</i>]",784,228,"",true);page.lastChild.style.fontSize="16.4px";
text("Velocity [<i>m.s</i><sup>−1</sup>]",1572,230,"",true);page.lastChild.style.fontSize="17px";

// ---- logo
const logo=document.createElementNS("http://www.w3.org/2000/svg","svg");
logo.setAttribute("width",200);logo.setAttribute("height",110);
logo.style.cssText="position:absolute;left:1280px;top:0";
logo.innerHTML=`<defs><linearGradient id="g" gradientUnits="userSpaceOnUse" x1="27" y1="0" x2="171" y2="0"><stop offset="0" stop-color="#8ccdc6"/><stop offset=".35" stop-color="#1f7e95"/><stop offset=".7" stop-color="#16194f"/><stop offset="1" stop-color="#16194f"/></linearGradient></defs>
<path d="M27 49 Q60 16 97 17 Q135 18 171 49" fill="none" stroke="url(#g)" stroke-width="3"/>
<line x1="144" y1="2" x2="144" y2="54" stroke="#16194f" stroke-width="2"/>
<text x="103" y="78" text-anchor="middle" font-family="Lato" font-weight="700" font-size="29" letter-spacing="12.2" fill="#16194f">ACTRIS</text>
<text x="97" y="98" text-anchor="middle" font-family="Lato" font-size="17" fill="#16194f">CCRES</text>`;
page.appendChild(logo);
</script></body></html>
